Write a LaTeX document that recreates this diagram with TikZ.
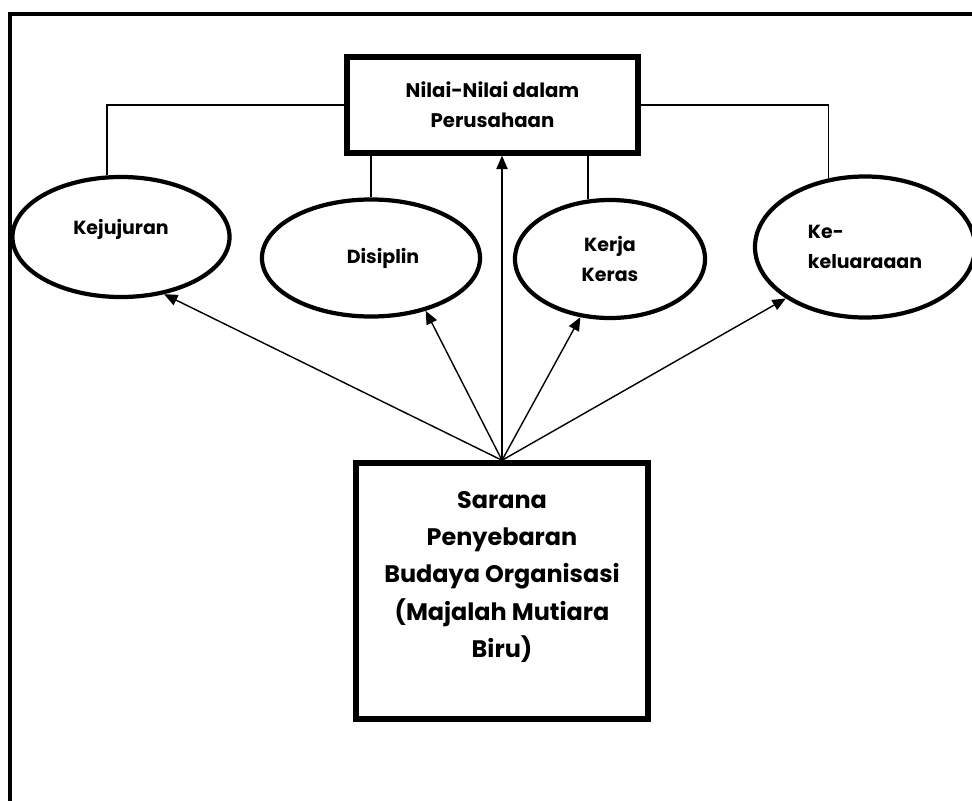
\documentclass[tikz,border=0pt]{standalone}
\usepackage{fontspec}
\setmainfont{Poppins}
\usetikzlibrary{shapes.geometric}
\usetikzlibrary{arrows.meta}

\begin{document}
\begin{tikzpicture}[x=0.025cm, y=-0.025cm,
		kotak/.style={draw, line width=3.8pt, align=center, inner sep=0pt},
		elips/.style={draw, ellipse, line width=3pt, align=center, inner sep=0pt,
			font=\bfseries\fontsize{13.5}{21.5}\selectfont},
		garis/.style={line width=1.4pt},
		panah/.style={line width=1pt, -{Triangle[length=9.5pt, width=8pt]}}]
				\useasboundingbox (0,0) rectangle (972,801);
				\draw[line width=2.8pt] (10,14) rectangle (990,830);
				% nilai dan sarana
				\node[kotak, minimum width=7.275cm, minimum height=2.4cm,
					font=\bfseries\fontsize{14}{21.5}\selectfont] (nilai) at (492.5,105)
					{Nilai-Nilai dalam\\Perusahaan};
				\node[kotak, minimum width=7.3cm, minimum height=6.4cm,
					font=\bfseries\fontsize{17}{26.5}\selectfont] (sarana) at (502,591)
					{Sarana\\Penyebaran\\Budaya Organisasi\\(Majalah Mutiara\\Biru)\\[-0.1cm]};
				% elips nilai
				\node[elips, minimum width=5.425cm, minimum height=3cm] (kej) at (121,237) {Kejujuran\\[-0.25cm]};
				\node[elips, minimum width=5.45cm, minimum height=2.925cm] (dis) at (371,258) {\hspace{0.6cm}Disiplin};
				\node[elips, minimum width=4.75cm, minimum height=2.95cm] (kk) at (610,259) {Kerja\\Keras};
				\node[elips, minimum width=5.5cm, minimum height=3.525cm, align=left] (kel) at (865,247) {Ke-\\keluaraaan};
				% garis ke nilai
				\draw[garis] (nilai.west) -| (kej.103);
				\draw[garis] (nilai.east) -| (kel.118);
				\draw[garis] (dis.north) -- (dis.north |- nilai.south);
				\draw[garis] (kk.110) -- (kk.110 |- nilai.south);
				% panah
				\draw[panah] (sarana.north) -- (sarana.north |- nilai.south);
				\foreach \e/\a in {kej/-53, dis/-44, kk/-117, kel/-147} {
					\draw[panah] (sarana.north) -- (\e.\a);
				}
			\end{tikzpicture}
\end{document}
